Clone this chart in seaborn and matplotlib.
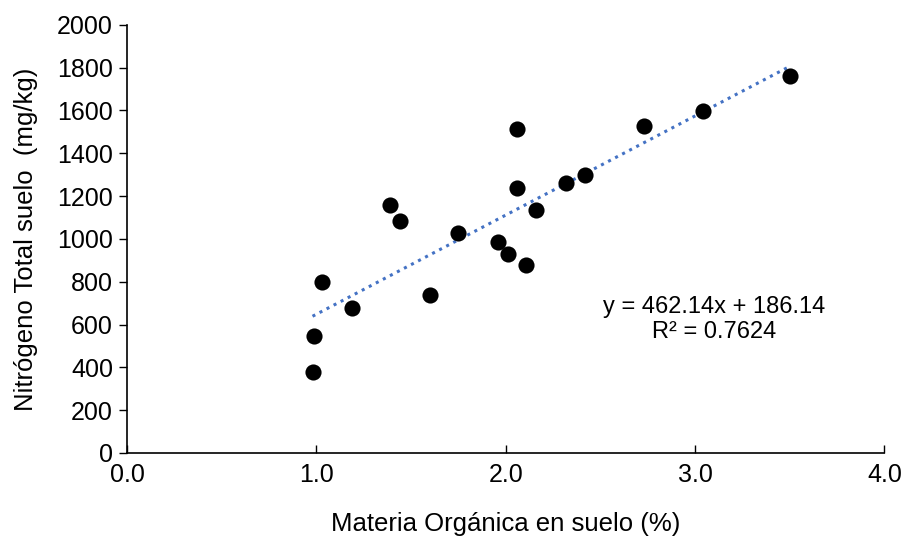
import numpy as np
import pandas as pd
import matplotlib.pyplot as plt
import seaborn as sns

materia_organica = [0.98, 0.99, 1.03, 1.19, 1.39, 1.44, 1.60, 1.75, 1.96, 2.01,
                    2.11, 2.06, 2.06, 2.16, 2.32, 2.42, 2.73, 3.04, 3.50]
nitrogeno_total = [377, 547, 798, 678, 1156, 1083, 737, 1027, 985, 928,
                   880, 1237, 1514, 1134, 1261, 1300, 1525, 1595, 1762]
x_ticks = [0.0, 1.0, 2.0, 3.0, 4.0]
y_ticks = list(range(0, 2001, 200))

data = pd.DataFrame({'mo': materia_organica, 'nt': nitrogeno_total})

sns.set_style('ticks', {'text.color': 'black', 'axes.labelcolor': 'black',
                        'xtick.color': 'black', 'ytick.color': 'black',
                        'axes.edgecolor': 'black'})
plt.rcParams['font.family'] = ['Liberation Sans', 'DejaVu Sans']

fig, ax = plt.subplots(figsize=(9.07, 5.38), dpi=100)
fig.subplots_adjust(left=0.140, right=0.975, top=0.954, bottom=0.158)

sns.regplot(data=data, x='mo', y='nt', ci=None, scatter=False, ax=ax,
            line_kws={'color': '#4472C4', 'linestyle': (0, (1, 1.6)), 'linewidth': 2.2})
sns.scatterplot(data=data, x='mo', y='nt', color='black', s=135, edgecolor='black',
                linewidth=0, ax=ax, zorder=3)

ax.set_xlim(0, 4)
ax.set_ylim(0, 2000)
ax.set_xticks(x_ticks)
ax.set_xticklabels([f'{t:.1f}' for t in x_ticks])
ax.set_yticks(y_ticks)
ax.tick_params(axis='both', labelsize=18, width=1, length=6, color='black', labelcolor='black')
ax.tick_params(axis='x', direction='in', pad=7)
ax.tick_params(axis='y', direction='out', pad=4)
for side in ['left', 'bottom']:
    ax.spines[side].set_linewidth(1.2)
    ax.spines[side].set_color('black')
sns.despine(ax=ax)

ax.set_xlabel('Materia Orgánica en suelo (%)', fontsize=18.5, labelpad=18, color='black')
ax.set_ylabel('Nitrógeno Total suelo  (mg/kg)', fontsize=18.5, labelpad=14, color='black')

ax.text(3.1, 682, 'y = 462.14x + 186.14', ha='center', va='center', fontsize=17, color='black')
ax.text(3.1, 567, 'R² = 0.7624', ha='center', va='center', fontsize=17, color='black')

plt.savefig('out.png', dpi=100)
